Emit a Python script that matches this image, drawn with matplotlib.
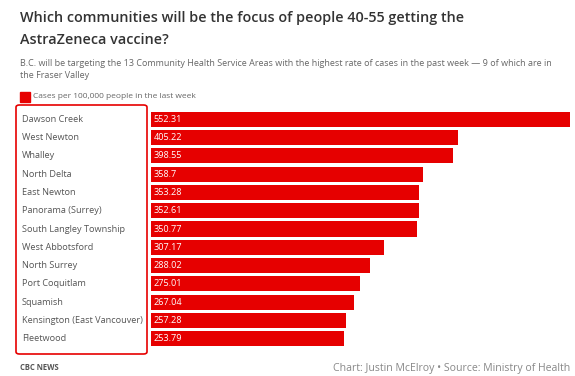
import matplotlib
matplotlib.use("Agg")
import matplotlib.pyplot as plt
from matplotlib.patches import FancyBboxPatch, Rectangle

plt.rcParams['font.family'] = ['Open Sans', 'DejaVu Sans']

categories = ["Dawson Creek", "West Newton", "Whalley", "North Delta", "East Newton",
              "Panorama (Surrey)", "South Langley Township", "West Abbotsford",
              "North Surrey", "Port Coquitlam", "Squamish",
              "Kensington (East Vancouver)", "Fleetwood"]
values = [552.31, 405.22, 398.55, 358.7, 353.28, 352.61, 350.77, 307.17,
          288.02, 275.01, 267.04, 257.28, 253.79]
value_labels = ["552.31", "405.22", "398.55", "358.7", "353.28", "352.61", "350.77",
                "307.17", "288.02", "275.01", "267.04", "257.28", "253.79"]

W, H = 575, 376
fig = plt.figure(figsize=(W/100, H/100), dpi=100)
RED = "#e60000"

left, right, top, bottom = 151, 570, 110, 348
ax = fig.add_axes([left/W, 1-bottom/H, (right-left)/W, (bottom-top)/H])
y = list(range(len(categories)))
ax.barh(y, values, height=0.82, color=RED)
ax.set_ylim(len(categories)-0.5, -0.5)
ax.set_xlim(0, max(values))
ax.axis('off')
for yi, lab in zip(y, value_labels):
    ax.text(3, yi, lab, color='white', fontsize=6.6, va='center', ha='left')

# category labels
for yi, cat in zip(y, categories):
    ypx = top + (yi + 0.5) * (bottom - top) / len(categories)
    fig.text(22/W, 1-ypx/H, cat, color='#555555', fontsize=6.6, va='center', ha='left')

# red box
box = FancyBboxPatch((16/W, 1-354/H), (147-16)/W, (354-105)/H,
                     boxstyle="round,pad=0,rounding_size=0.006",
                     transform=fig.transFigure, fill=False, edgecolor=RED, linewidth=1.2)
fig.patches.append(box)

# title
fig.text(20/W, 1-18/H, "Which communities will be the focus of people 40-55 getting the",
         fontsize=10.35, fontweight='semibold', color='#333333', va='center', ha='left')
fig.text(20/W, 1-40/H, "AstraZeneca vaccine?",
         fontsize=10.35, fontweight='semibold', color='#333333', va='center', ha='left')
fig.text(20/W, 1-63/H, "B.C. will be targeting the 13 Community Health Service Areas with the highest rate of cases in the past week \u2014 9 of which are in",
         fontsize=6.5, color='#666666', va='center', ha='left')
fig.text(20/W, 1-76/H, "the Fraser Valley",
         fontsize=6.5, color='#666666', va='center', ha='left')

# legend
fig.patches.append(Rectangle((20/W, 1-102/H), 10/W, 10/H, transform=fig.transFigure,
                             color=RED))
fig.text(33/W, 1-97/H, "Cases per 100,000 people in the last week",
         fontsize=6.0, color='#666666', va='center', ha='left')

# footer
fig.text(20/W, 1-368/H, "CBC NEWS", fontsize=5.5, fontweight='bold', color='#555555',
         va='center', ha='left')
fig.text(570/W, 1-368/H, "Chart: Justin McElroy \u2022 Source: Ministry of Health",
         fontsize=7.6, color='#888888', va='center', ha='right')

fig.savefig("out.png", dpi=100)
